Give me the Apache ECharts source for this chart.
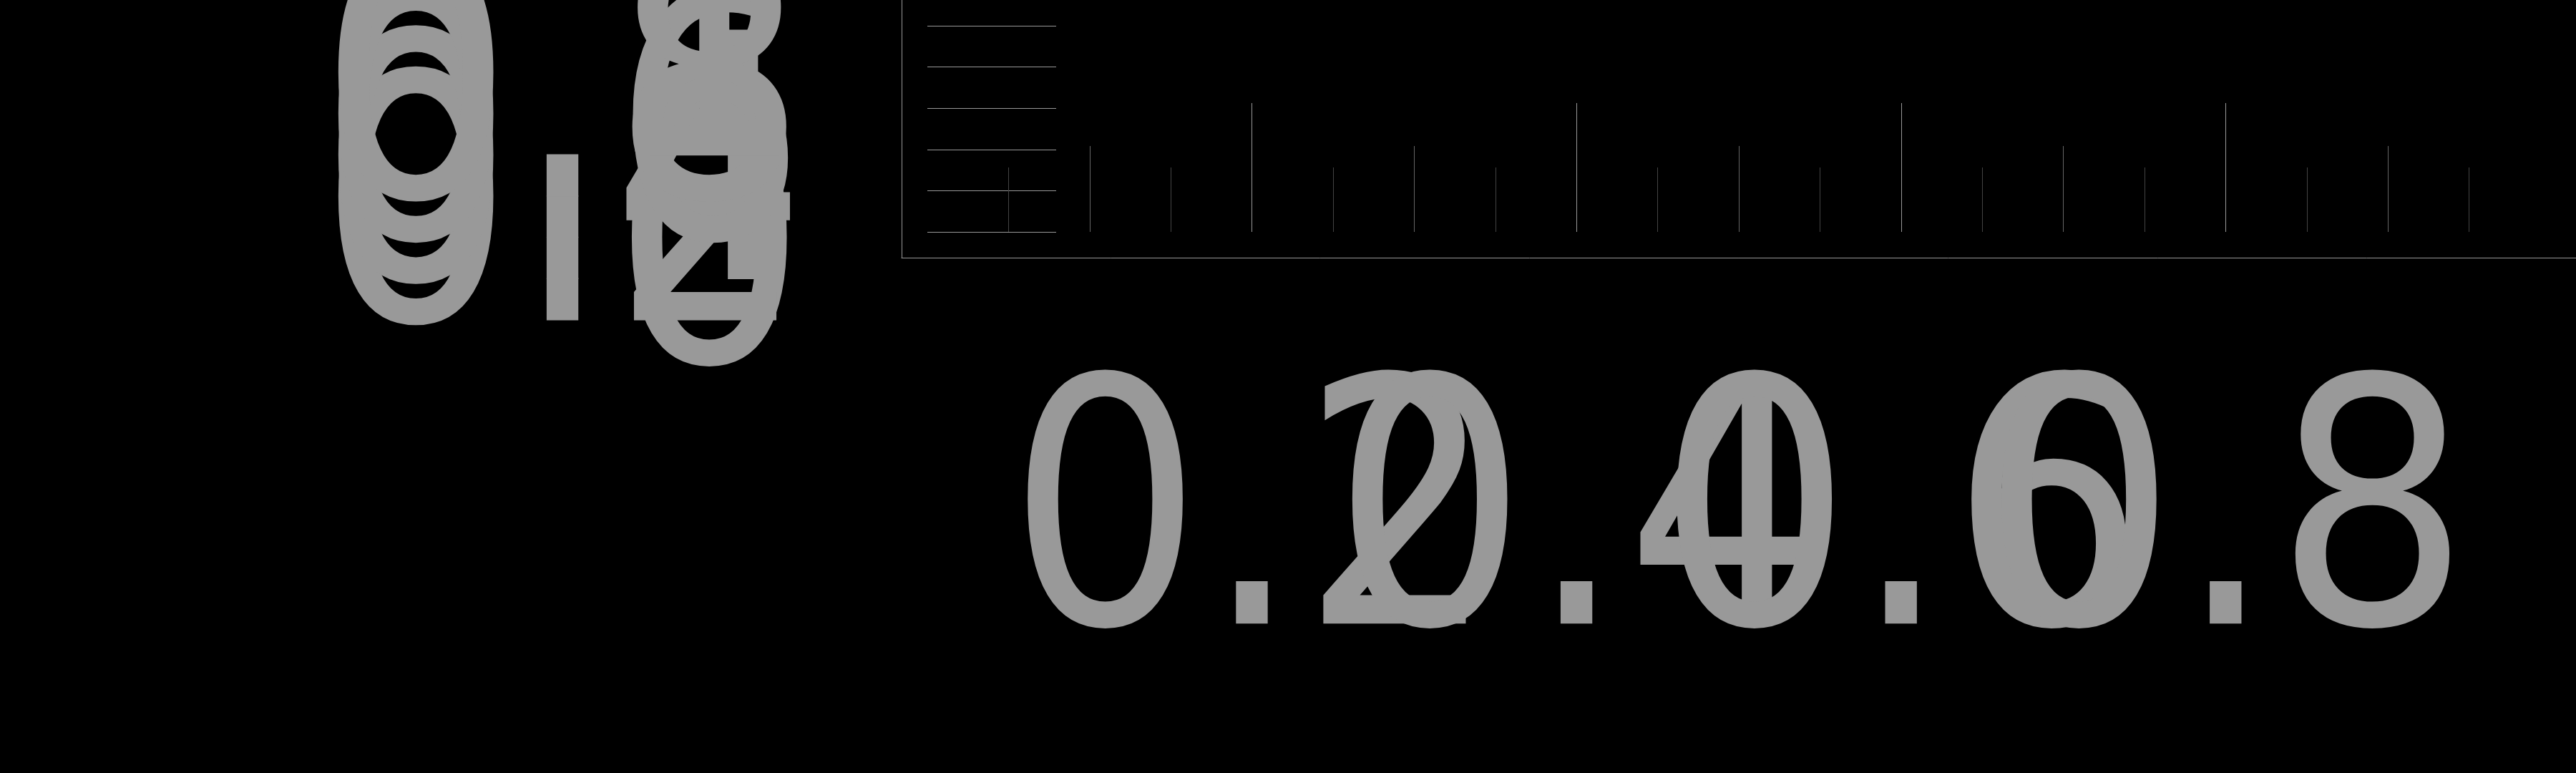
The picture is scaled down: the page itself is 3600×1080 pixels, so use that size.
<!DOCTYPE html>
<html>
<head>
<meta charset="utf-8">
<script src="https://cdn.jsdelivr.net/npm/echarts@6/dist/echarts.min.js"></script>
<style>
  html, body { margin: 0; padding: 0; background: #000; }
  #main { width: 3600px; height: 1080px; }
</style>
</head>
<body>
<div id="main"></div>
<script>
// axis values
var xMin = 0, xMax = 1, xStep = 0.2;
var yMin = 0, yMax = 1;
var xMidTicks = [0.1, 0.3, 0.5, 0.7, 0.9];
var xMinorTicks = [0.05, 0.15, 0.25, 0.35, 0.45, 0.55, 0.65, 0.75, 0.85, 0.95];
var yLabelValues = [0, 0.2, 0.4, 0.6, 0.8, 1];

var labelColor = '#999';
var labelSize = 478;
var labelFont = 'DejaVu Sans Condensed';

function tickAxis(values, len, color) {
    return {
        type: 'value',
        gridIndex: 0,
        position: 'bottom',
        min: xMin,
        max: xMax,
        axisLine: { show: false, onZero: false },
        splitLine: { show: false },
        axisTick: {
            show: true,
            inside: true,
            length: len,
            customValues: values,
            lineStyle: { color: color, width: 1 }
        },
        axisLabel: { show: false }
    };
}

// one y axis per tick so the huge labels are not thinned out
function yTickAxis(v) {
    return {
        type: 'value',
        gridIndex: 0,
        position: 'left',
        offset: 0,
        min: yMin,
        max: yMax,
        axisLine: { show: false, onZero: false },
        splitLine: { show: false },
        axisTick: {
            show: true,
            inside: true,
            length: 180,
            customValues: [v],
            lineStyle: { color: '#999', width: 1 }
        },
        axisLabel: {
            show: true,
            customValues: [v],
            showMinLabel: true,
            showMaxLabel: true,
            color: labelColor,
            fontFamily: labelFont,
            fontSize: labelSize,
            verticalAlign: 'top',
            lineHeight: 114,
            margin: 168
        }
    };
}

var yAxes = yLabelValues.map(yTickAxis);
yAxes.push({
    type: 'value',
    gridIndex: 1,
    min: 0,
    max: 1,
    axisLine: { show: true, onZero: false, lineStyle: { color: '#999' } },
    axisTick: { show: false },
    axisLabel: { show: false },
    splitLine: { show: false }
});

var chart = echarts.init(document.getElementById('main'));
var option = {
    backgroundColor: '#000',
    animation: false,
    grid: [
        { left: 1296, top: 36, width: 2268, height: 288, outerBoundsMode: 'none', containLabel: false },
        { left: 1260, top: 0, right: 0, height: 360, outerBoundsMode: 'none', containLabel: false }
    ],
    xAxis: [
        {
            type: 'value',
            gridIndex: 0,
            position: 'bottom',
            min: xMin,
            max: xMax,
            interval: xStep,
            axisLine: { show: false, onZero: false },
            splitLine: { show: false },
            axisTick: {
                show: true,
                inside: true,
                length: 180,
                lineStyle: { color: '#999', width: 1 }
            },
            axisLabel: {
                show: true,
                color: labelColor,
                fontFamily: labelFont,
                fontSize: labelSize,
                margin: 184
            }
        },
        tickAxis(xMidTicks, 120, '#666'),
        tickAxis(xMinorTicks, 90, '#444'),
        {
            type: 'value',
            gridIndex: 1,
            position: 'bottom',
            min: 0,
            max: 1,
            axisLine: { show: true, onZero: false, lineStyle: { color: '#999' } },
            axisTick: { show: false },
            axisLabel: { show: false },
            splitLine: { show: false }
        }
    ],
    yAxis: yAxes,
    series: []
};
chart.setOption(option);
</script>
</body>
</html>
